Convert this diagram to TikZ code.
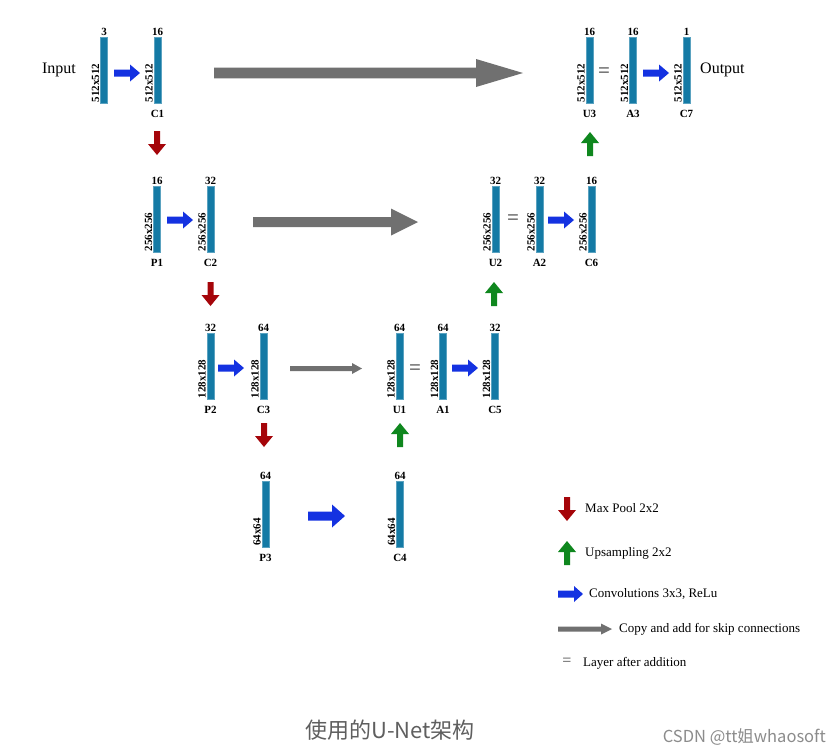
\documentclass[tikz,border=0pt]{standalone}
\usepackage{fontspec}
\setmainfont{Liberation Serif}
\newfontfamily\cjk{Noto Sans CJK SC}
\definecolor{barc}{RGB}{20,122,165}
\definecolor{bluea}{RGB}{20,50,225}
\definecolor{reda}{RGB}{165,5,10}
\definecolor{greena}{RGB}{15,135,30}
\definecolor{graya}{RGB}{112,112,112}
\definecolor{captc}{RGB}{95,95,95}
\definecolor{markc}{RGB}{140,140,140}
% horizontal arrow: color, x start, y, length, shaft half, head half, head length
\newcommand\HArr[7]{\fill[#1] (#2,#3) ++(0,-#5) -- ++(#4-#7,0) -- ++(0,-#6+#5) -- ++(#7,#6) -- ++(-#7,#6) -- ++(0,-#6+#5) -- ++(-#4+#7,0) -- cycle;}
% vertical arrow: color, x, y start, length (signed: + down, - up), shaft half, head half, head length (signed)
\newcommand\VArr[7]{\fill[#1] (#2,#3) ++(-#5,0) -- ++(0,#4-#7) -- ++(-#6+#5,0) -- ++(#6,#7) -- ++(#6,-#7) -- ++(-#6+#5,0) -- ++(0,-#4+#7) -- cycle;}
\tikzset{
  bar/.style={fill=barc, draw=barc!70!white, line width=0.4pt, minimum width=7pt, minimum height=66pt, inner sep=0pt, outer sep=0pt},
  chl/.style={anchor=south, font=\fontsize{11}{13}\selectfont\bfseries, inner sep=1.5pt},
  nml/.style={anchor=north, font=\fontsize{11}{13}\selectfont\bfseries, inner sep=0pt, yshift=-7pt},
  szl/.style={rotate=90, anchor=south west, font=\fontsize{11}{13}\selectfont\bfseries, inner sep=1pt},
  eq/.style={font=\fontsize{21}{22}\selectfont, text=black!80, inner sep=0pt},
  leg/.style={anchor=west, font=\fontsize{13}{15}\selectfont, inner sep=0pt},
}
\begin{document}
\begin{tikzpicture}[x=1pt,y=-1pt]
\useasboundingbox (0,0) rectangle (839,755);
\fill[white] (0,0) rectangle (839,755);

% ---- bars ----
\foreach \n/\x/\c/\s in {In/104/3/512x512, C1/157.5/16/512x512, U3/589.5/16/512x512, A3/633/16/512x512, C7/686.5/1/512x512}{
  \node[bar] (\n) at (\x,70.5) {};
  \node[chl] at (\n.north) {\c};
  \node[szl] at (\n.south west) {\s};
}
\foreach \n/\x/\c/\s in {P1/157/16/256x256, C2/210.5/32/256x256, U2/495.5/32/256x256, A2/539.5/32/256x256, C6/591.5/16/256x256}{
  \node[bar] (\n) at (\x,219.5) {};
  \node[chl] at (\n.north) {\c};
  \node[szl] at (\n.south west) {\s};
  \node[nml] at (\n.south) {\n};
}
\foreach \n/\x/\c/\s in {P2/210.5/32/128x128, C3/263.5/64/128x128, U1/399.5/64/128x128, A1/443/64/128x128, C5/495/32/128x128}{
  \node[bar] (\n) at (\x,366.5) {};
  \node[chl] at (\n.north) {\c};
  \node[szl] at (\n.south west) {\s};
  \node[nml] at (\n.south) {\n};
}
\foreach \n/\x/\c/\s in {P3/265.5/64/64x64, C4/400/64/64x64}{
  \node[bar] (\n) at (\x,514) {};
  \node[chl] at (\n.north) {\c};
  \node[szl] at (\n.south west) {\s};
  \node[nml] at (\n.south) {\n};
}
\foreach \n in {C1,U3,A3,C7}{\node[nml] at (\n.south) {\n};}

\node[font=\fontsize{16}{18}\selectfont, inner sep=0pt] (inp) at (59,70) {Input};
\node[font=\fontsize{16}{18}\selectfont, inner sep=0pt, anchor=west] (outp) at (700,70) {Output};

% ---- equals ----
\node[eq] (e3) at (604,73) {=};
\node[eq] (e2) at (513,220) {=};
\node[eq] (e1) at (415,370) {=};

% ---- convolution arrows ----
\HArr{bluea}{114}{73}{26}{3.5}{8.5}{10}
\HArr{bluea}{643}{73}{26}{3.5}{8.5}{10}
\HArr{bluea}{167}{220}{26}{3.5}{8.5}{10}
\HArr{bluea}{548}{220}{26}{3.5}{8.5}{10}
\HArr{bluea}{218}{368}{26}{3.5}{8.5}{10}
\HArr{bluea}{452}{368}{26}{3.5}{8.5}{10}
\HArr{bluea}{308}{516}{37}{4.5}{11.5}{13}

% ---- skip arrows ----
\HArr{graya}{214}{73}{309}{5.3}{14}{47}
\HArr{graya}{253}{222}{165}{5}{13.5}{27}
\HArr{graya}{290}{368.5}{72}{2.5}{5.5}{10}

% ---- max pool arrows ----
\VArr{reda}{157}{131}{24}{3}{9}{11}
\VArr{reda}{210.5}{282}{24}{3}{9}{11}
\VArr{reda}{264}{423}{24}{3}{9}{11}

% ---- upsampling arrows ----
\VArr{greena}{590}{156}{-24}{3}{9}{-11}
\VArr{greena}{494}{306}{-24}{3}{9}{-11}
\VArr{greena}{400}{447}{-24}{3}{9}{-11}

% ---- legend ----
\VArr{reda}{567}{497}{24}{3}{9}{11}
\node[leg] (l1) at (585,508) {Max Pool 2x2};
\VArr{greena}{567}{565}{-24}{3}{9}{-11}
\node[leg] (l2) at (585,553) {Upsampling 2x2};
\HArr{bluea}{558}{594}{25}{3.5}{8}{9}
\node[leg] (l3) at (589,594) {Convolutions 3x3, ReLu};
\HArr{graya}{558}{629}{54}{2.5}{5.5}{11}
\node[leg] (l4) at (619,629) {Copy and add for skip connections};
\node[eq, font=\fontsize{16}{17}\selectfont, text=black!70] (le) at (567,662) {=};
\node[leg] (l5) at (583,663) {Layer after addition};

% ---- caption / watermark ----
\node[font=\cjk\fontsize{22}{24}\selectfont, text=captc, inner sep=0pt] (cap) at (390,730) {使用的U-Net架构};
\node[font=\cjk\fontsize{16.5}{18}\selectfont, text=markc, inner sep=0pt, anchor=east] (wm) at (826,737) {CSDN @tt姐whaosoft};
\end{tikzpicture}
\end{document}
